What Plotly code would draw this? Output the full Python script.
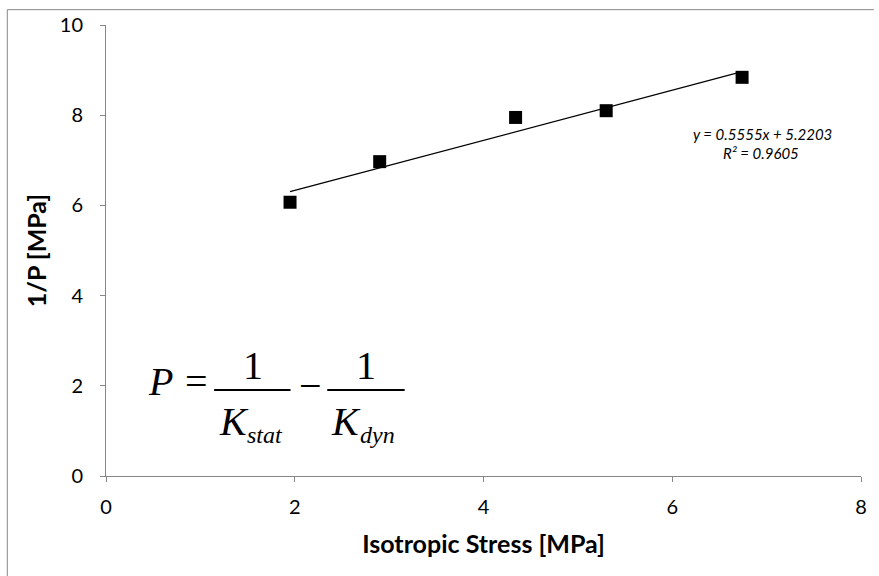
import plotly.graph_objects as go

# ---- data ----
stress = [1.95, 2.90, 4.34, 5.30, 6.74]
inv_p = [6.07, 6.97, 7.95, 8.10, 8.84]
slope = 0.5555
intercept = 5.2203
r2 = 0.9605
x_ticks = [0, 2, 4, 6, 8]
y_ticks = [0, 2, 4, 6, 8, 10]

W, H = 879, 576
L, R, T, B = 106, 12, 20, 100
pw, ph = W - L - R, H - T - B


def px(xp):
    return (xp - L) / pw


def py(yp):
    return (H - B - yp) / ph


fig = go.Figure()

tx = [min(stress), max(stress)]
ty = [slope * v + intercept for v in tx]
fig.add_trace(go.Scatter(x=tx, y=ty, mode="lines",
                         line=dict(color="black", width=1.3), hoverinfo="skip"))
fig.add_trace(go.Scatter(x=stress, y=inv_p, mode="markers",
                         marker=dict(symbol="square", size=13, color="black")))

axis_common = dict(showline=True, linecolor="#868686", linewidth=1,
                   ticks="outside", ticklen=5, tickcolor="#868686",
                   showgrid=False, zeroline=False,
                   tickfont=dict(family="Lato", size=20, color="#000"))

fig.update_xaxes(range=[0, 8], tickvals=x_ticks, **axis_common,
                 ticklabelstandoff=8,
                 title=dict(text="<b>Isotropic Stress [MPa]</b>",
                            font=dict(family="Lato", size=25, color="#000"),
                            standoff=18))
fig.update_yaxes(range=[0, 10], tickvals=y_ticks, **axis_common,
                 ticklabelstandoff=13,
                 title=dict(text="<b>1/P [MPa]</b>",
                            font=dict(family="Lato", size=25, color="#000"),
                            standoff=6))


def text_ann(x, y, text, family, size, italic=False):
    t = f"<i>{text}</i>" if italic else text
    return dict(x=px(x), y=py(y), xref="paper", yref="paper", showarrow=False,
                xanchor="center", yanchor="middle", text=t,
                font=dict(family=family, size=size, color="#000"))


ann = [
    text_ann(768, 130, f"y = {slope}x + {intercept}", "Lato", 15, True),
    text_ann(766, 149, f"R² = {r2}", "Lato", 15, True),
]

serif = "Liberation Serif"
fs = 40
ann += [
    text_ann(161, 380, "P", serif, fs, True),
    text_ann(197, 380, "=", serif, fs),
    text_ann(312, 384, "−", serif, fs),
    text_ann(254, 364, "1", serif, fs),
    text_ann(368, 364, "1", serif, fs),
    text_ann(235, 421, "K", serif, fs, True),
    text_ann(266, 435, "stat", serif, 24, True),
    text_ann(348, 421, "K", serif, fs, True),
    text_ann(380, 435, "dyn", serif, 24, True),
]

shapes = [
    dict(type="line", xref="paper", yref="paper", x0=px(215), x1=px(292),
         y0=py(389), y1=py(389), line=dict(color="black", width=2)),
    dict(type="line", xref="paper", yref="paper", x0=px(329), x1=px(407),
         y0=py(389), y1=py(389), line=dict(color="black", width=2)),
    # chart-area border (only top and left edges fall inside the picture)
    dict(type="line", xref="paper", yref="paper", x0=px(6.5), x1=px(880),
         y0=py(4.5), y1=py(4.5), line=dict(color="#868686", width=1)),
    dict(type="line", xref="paper", yref="paper", x0=px(6.5), x1=px(6.5),
         y0=py(4.5), y1=py(580), line=dict(color="#868686", width=1)),
]

fig.update_layout(width=W, height=H, margin=dict(l=L, r=R, t=T, b=B),
                  plot_bgcolor="white", paper_bgcolor="white",
                  showlegend=False, annotations=ann, shapes=shapes)

fig.write_html("out.html")
